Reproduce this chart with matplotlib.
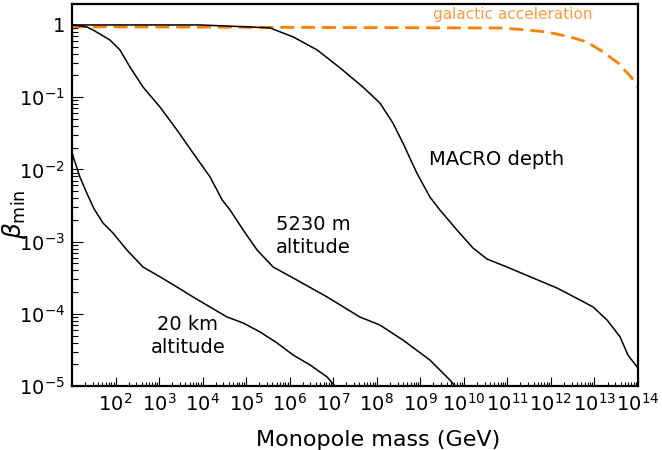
import numpy as np
import matplotlib

matplotlib.use("Agg")
import matplotlib.pyplot as plt
from matplotlib.ticker import FixedLocator, LogLocator, FuncFormatter, NullFormatter

# curves, as log10(mass / GeV) and log10(beta_min)
macro_logm = [1.0, 3.94, 5.09, 5.55, 6.08, 6.63, 7.16, 7.68, 8.07, 8.37, 8.60,
              8.92, 9.22, 9.45, 9.84, 10.21, 10.53, 10.99, 11.59, 12.14, 12.67,
              12.97, 13.29, 13.59, 13.77, 13.98]
macro_logb = [0.0, 0.0, -0.028, -0.042, -0.166, -0.346, -0.596, -0.859, -1.080,
              -1.357, -1.634, -2.050, -2.382, -2.562, -2.839, -3.089, -3.241,
              -3.352, -3.504, -3.643, -3.809, -3.906, -4.086, -4.321, -4.571, -4.737]

alt5230_logm = [1.0, 1.34, 1.48, 1.87, 2.10, 2.33, 2.63, 3.02, 3.41, 3.78, 4.17,
                4.45, 4.63, 4.93, 5.25, 5.62, 6.08, 6.86, 7.61, 8.07, 8.60, 9.22,
                9.68, 9.80]
alt5230_logb = [0.0, -0.028, -0.069, -0.208, -0.346, -0.582, -0.859, -1.136,
                -1.454, -1.773, -2.105, -2.424, -2.562, -2.839, -3.116, -3.352,
                -3.504, -3.767, -4.044, -4.155, -4.363, -4.640, -4.917, -5.0]

alt20k_logm = [1.0, 1.18, 1.34, 1.50, 1.71, 1.94, 2.26, 2.63, 2.95, 3.41, 3.78,
               4.17, 4.56, 4.93, 5.32, 5.71, 6.08, 6.47, 6.86, 7.04]
alt20k_logb = [-1.773, -2.105, -2.330, -2.540, -2.742, -2.881, -3.116, -3.352,
               -3.463, -3.629, -3.767, -3.906, -4.044, -4.127, -4.252, -4.404,
               -4.571, -4.709, -4.875, -5.0]

galactic_logm = [1.0, 10.83, 11.29, 11.91, 12.44, 12.83, 13.20, 13.54, 13.86, 14.0]
galactic_logb = [-0.025, -0.042, -0.062, -0.097, -0.166, -0.235, -0.374, -0.526,
                 -0.734, -0.859]

x_ticks = [1e2, 1e3, 1e4, 1e5, 1e6, 1e7, 1e8, 1e9, 1e10, 1e11, 1e12, 1e13, 1e14]
y_ticks = [1e-5, 1e-4, 1e-3, 1e-2, 1e-1, 1]

fig = plt.figure(figsize=(6.62, 4.5), dpi=100)
ax = fig.add_axes([0.1088, 0.1422, 0.8549, 0.8489])

orange = "#ff8000"
ax.plot(10 ** np.array(galactic_logm), 10 ** np.array(galactic_logb),
        color=orange, lw=2.0, dashes=(5, 2.5))
for xs, ys in [(macro_logm, macro_logb), (alt5230_logm, alt5230_logb),
               (alt20k_logm, alt20k_logb)]:
    ax.plot(10 ** np.array(xs), 10 ** np.array(ys), color="black", lw=1.1)

ax.set_xscale("log")
ax.set_yscale("log")
ax.set_xlim(10, 1e14)
ax.set_ylim(1e-5, 1.95)

ax.xaxis.set_major_locator(FixedLocator(x_ticks))
ax.xaxis.set_minor_locator(LogLocator(base=10, subs=np.arange(2, 10), numticks=30))
ax.xaxis.set_minor_formatter(NullFormatter())
ax.xaxis.set_major_formatter(FuncFormatter(
    lambda v, p: r"$\mathdefault{10^{%d}}$" % round(np.log10(v))))

ax.yaxis.set_major_locator(FixedLocator(y_ticks))
ax.yaxis.set_minor_locator(LogLocator(base=10, subs=np.arange(2, 10), numticks=30))
ax.yaxis.set_minor_formatter(NullFormatter())
ax.yaxis.set_major_formatter(FuncFormatter(
    lambda v, p: "1" if round(np.log10(v)) == 0 else r"$\mathdefault{10^{%d}}$" % round(np.log10(v))))

ax.tick_params(axis="x", which="major", direction="in", length=6.5, width=0.8,
               labelsize=14, pad=5, top=False)
ax.tick_params(axis="x", which="minor", direction="in", length=3, width=0.8, top=False)
ax.tick_params(axis="y", which="major", direction="in", length=8, width=0.8,
               labelsize=14, pad=5, right=False)
ax.tick_params(axis="y", which="minor", direction="in", length=4.2, width=0.8, right=False)

for side in ["left", "bottom", "top", "right"]:
    ax.spines[side].set_linewidth(1.6)

ax.set_xlabel("Monopole mass (GeV)", fontsize=16)
ax.xaxis.set_label_coords(0.54, -0.115)
ax.set_ylabel(r"$\beta_{\rm min}$", fontsize=18)
ax.yaxis.set_label_coords(-0.078, 0.45)

ax.text(5.7e10, 1.35e-2, "MACRO depth", fontsize=14, ha="center", va="center")
ax.text(3.4e6, 1.2e-3, "5230 m\naltitude", fontsize=14, ha="center", va="center",
        multialignment="center", linespacing=1.25)
ax.text(4.6e3, 4.9e-5, "20 km\naltitude", fontsize=14, ha="center", va="center",
        multialignment="center", linespacing=1.25)
ax.text(1.3e11, 1.38, "galactic acceleration", fontsize=11, color="#ff9a3c",
        ha="center", va="center")

plt.savefig("out.png", dpi=100)
